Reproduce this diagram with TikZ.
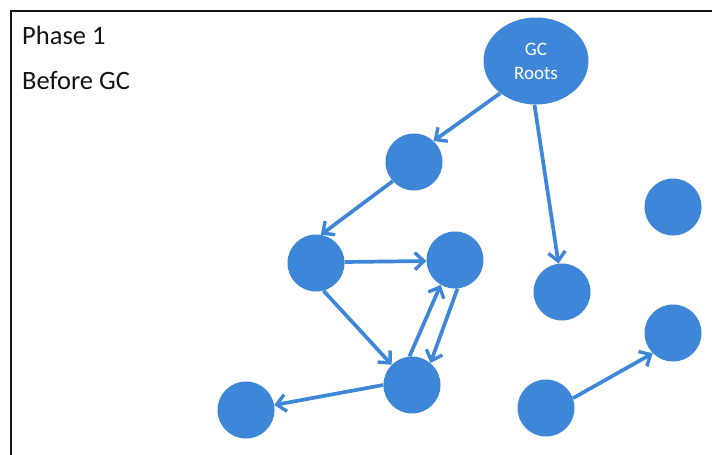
\documentclass[tikz,border=0pt]{standalone}
\usepackage{fontspec}
\setmainfont{Carlito}
\usetikzlibrary{arrows.meta,shapes.geometric}
\definecolor{objblue}{RGB}{62,134,215}
\definecolor{framegray}{RGB}{20,20,20}
\begin{document}
\begin{tikzpicture}[x=1pt,y=-1pt,
  obj/.style={circle,fill=objblue,draw=none,minimum size=57pt,inner sep=0pt},
  rootnode/.style={ellipse,fill=objblue,draw=none,minimum width=105pt,minimum height=87pt,inner sep=0pt,
    text=white,font=\fontsize{19}{24}\selectfont,align=center},
  ref/.style={draw=objblue,line width=3.7pt,-{Straight Barb[length=9pt,width=17pt,line width=3.4pt]}},
  title/.style={anchor=base west,text=framegray,font=\fontsize{26.5}{30}\selectfont,inner sep=0pt}]
\useasboundingbox (0,0) rectangle (712,455);
\fill[white] (0,0) rectangle (712,455);
\draw[framegray,line width=2pt] (11,455) -- (11,11) -- (712,11);
\node[title] (t1) at (22,44) {Phase 1};
\node[title] (t2) at (22,89) {Before GC};
\node[rootnode] (R) at (536,61) {GC\\Roots};
\node[obj] (A) at (414,162) {};
\node[obj] (B) at (316,263) {};
\node[obj] (C) at (455,260) {};
\node[obj] (D) at (412,385) {};
\node[obj] (E) at (246,410) {};
\node[obj] (F) at (562,292) {};
\node[obj] (G) at (673,207) {};
\node[obj] (H) at (673,333) {};
\node[obj] (I) at (546,408) {};
\draw[ref] (R.222) -- (A.47);
\draw[ref] (R.268) -- (F.97);
\draw[ref] (A.222) -- (B.80);
\draw[ref] (B.2) -- (C.182);
\draw[ref] (B.285) -- (D.135);
\draw[ref] (D.95) -- (C.240);
\draw[ref] (C.275) -- (D.50);
\draw[ref] (D.180) -- (E.10);
\draw[ref] (I.20) -- (H.225);
\end{tikzpicture}
\end{document}
